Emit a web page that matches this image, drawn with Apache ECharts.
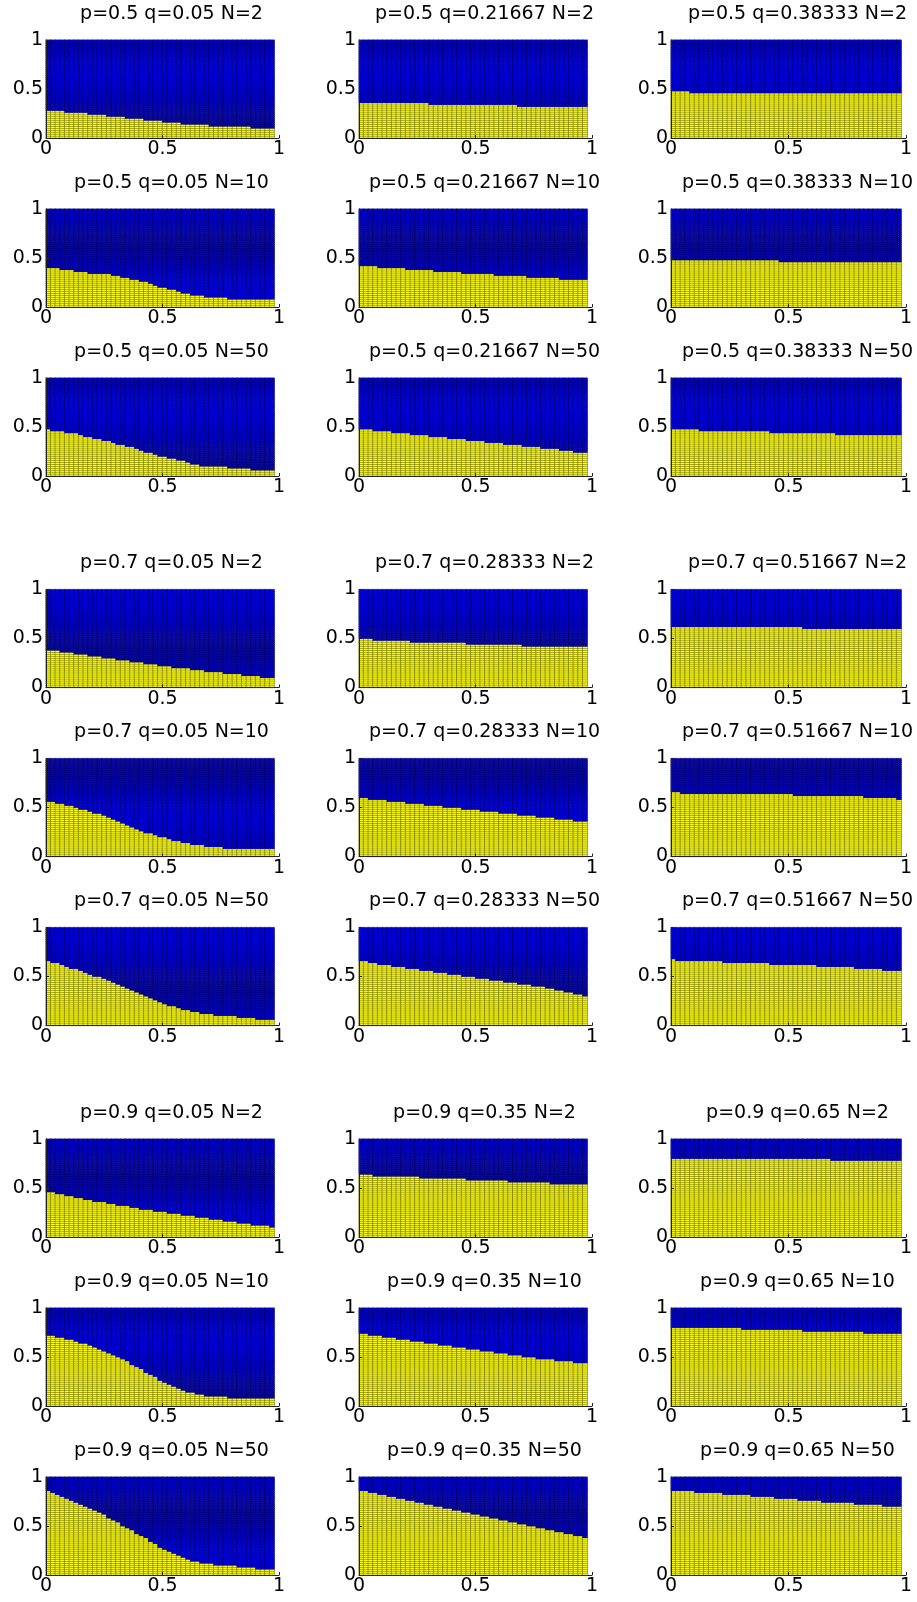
<!DOCTYPE html>
<html><head><meta charset="utf-8">
<script src="https://cdn.jsdelivr.net/npm/echarts@6/dist/echarts.min.js"></script>
<style>html,body{margin:0;padding:0;background:#fff}#c{width:917px;height:1602px}</style>
</head><body><div id="c"></div>
<script>
// Number of yellow cells (out of 50 rows, each 0.02 tall) in each of the 49 columns (each 0.02 wide, x from 0 to 0.98)
const p05_q005_N2 = [14,14,14,14,13,13,13,13,13,12,12,12,12,11,11,11,11,10,10,10,10,9,9,9,9,8,8,8,8,7,7,7,7,7,7,6,6,6,6,6,6,6,6,6,5,5,5,5,5];
const p05_q021667_N2 = [18,18,18,18,18,18,18,18,18,18,18,18,18,18,18,17,17,17,17,17,17,17,17,17,17,17,17,17,17,17,17,17,17,17,16,16,16,16,16,16,16,16,16,16,16,16,16,16,16];
const p05_q038333_N2 = [24,24,24,24,23,23,23,23,23,23,23,23,23,23,23,23,23,23,23,23,23,23,23,23,23,23,23,23,23,23,23,23,23,23,23,23,23,23,23,23,23,23,23,23,23,23,23,23,23];
const p05_q005_N10 = [20,20,20,19,19,19,18,18,18,17,17,17,17,17,16,16,15,15,14,14,13,13,12,11,10,10,9,9,8,7,7,6,6,6,5,5,5,5,5,4,4,4,4,4,4,4,4,4,4];
const p05_q021667_N10 = [21,21,21,21,20,20,20,20,20,20,19,19,19,19,19,19,18,18,18,18,18,18,17,17,17,17,17,17,17,16,16,16,16,16,16,16,15,15,15,15,15,15,15,14,14,14,14,14,14];
const p05_q038333_N10 = [24,24,24,24,24,24,24,24,24,24,24,24,24,24,24,24,24,24,24,24,24,24,24,23,23,23,23,23,23,23,23,23,23,23,23,23,23,23,23,23,23,23,23,23,23,23,23,23,23];
const p05_q005_N50 = [24,23,23,23,22,22,22,21,20,20,19,19,18,18,17,16,16,15,15,14,13,12,12,11,10,10,9,9,8,8,7,6,6,5,5,5,5,5,5,4,4,4,4,4,3,3,3,3,3];
const p05_q021667_N50 = [24,24,24,23,23,23,23,22,22,22,22,21,21,21,21,20,20,20,20,19,19,19,19,18,18,18,18,17,17,17,17,16,16,16,16,15,15,15,15,14,14,14,14,13,13,13,12,12,12];
const p05_q038333_N50 = [24,24,24,24,24,24,23,23,23,23,23,23,23,23,23,23,23,23,23,23,23,22,22,22,22,22,22,22,22,22,22,22,22,22,22,21,21,21,21,21,21,21,21,21,21,21,21,21,21];

const p07_q005_N2 = [19,19,19,18,18,18,17,17,17,16,16,16,15,15,15,14,14,14,13,13,13,12,12,12,11,11,11,10,10,10,10,9,9,9,8,8,8,8,7,7,7,7,6,6,6,6,5,5,5];
const p07_q028333_N2 = [25,25,25,24,24,24,24,24,24,24,24,23,23,23,23,23,23,23,23,23,23,23,23,22,22,22,22,22,22,22,22,22,22,22,22,21,21,21,21,21,21,21,21,21,21,21,21,21,21];
const p07_q051667_N2 = [31,31,31,31,31,31,31,31,31,31,31,31,31,31,31,31,31,31,31,31,31,31,31,31,31,31,31,31,30,30,30,30,30,30,30,30,30,30,30,30,30,30,30,30,30,30,30,30,30];
const p07_q005_N10 = [28,28,27,27,26,26,25,24,24,23,22,22,21,20,19,18,17,16,15,14,13,12,12,11,10,10,9,8,8,7,7,6,6,6,5,5,5,5,4,4,4,4,4,4,4,4,4,4,4];
const p07_q028333_N10 = [30,30,29,29,29,29,28,28,28,28,27,27,27,27,26,26,26,26,25,25,25,25,24,24,24,24,23,23,23,23,22,22,22,22,21,21,21,21,20,20,20,20,19,19,19,19,18,18,18];
const p07_q051667_N10 = [33,33,32,32,32,32,32,32,32,32,32,32,32,32,32,32,32,32,32,32,32,32,32,32,32,32,31,31,31,31,31,31,31,31,31,31,31,31,31,31,31,30,30,30,30,30,30,30,29];
const p07_q005_N50 = [33,32,32,31,30,29,29,28,27,26,25,25,24,23,22,21,20,19,18,17,16,15,14,13,12,11,10,10,9,8,8,7,7,6,6,6,5,5,5,5,5,4,4,4,4,3,3,3,3];
const p07_q028333_N50 = [33,33,32,32,31,31,31,30,30,30,29,29,29,28,28,28,27,27,27,26,26,26,25,25,25,24,24,24,23,23,23,22,22,22,21,21,21,20,20,20,19,19,18,18,17,17,16,16,15];
const p07_q051667_N50 = [34,33,33,33,33,33,33,33,33,33,33,32,32,32,32,32,32,32,32,32,32,31,31,31,31,31,31,31,31,31,31,30,30,30,30,30,30,30,30,29,29,29,29,29,29,28,28,28,28];

const p09_q005_N2 = [23,23,22,22,21,21,20,20,19,19,18,18,18,17,17,16,16,16,15,15,14,14,14,13,13,13,12,12,12,11,11,11,10,10,10,9,9,9,8,8,8,7,7,7,6,6,6,6,5];
const p09_q035_N2 = [32,32,32,31,31,31,31,31,31,31,31,31,31,30,30,30,30,30,30,30,30,30,30,29,29,29,29,29,29,29,29,29,28,28,28,28,28,28,28,28,28,27,27,27,27,27,27,27,27];
const p09_q065_N2 = [40,40,40,40,40,40,40,40,40,40,40,40,40,40,40,40,40,40,40,40,40,40,40,40,40,40,40,40,40,40,40,40,40,40,39,39,39,39,39,39,39,39,39,39,39,39,39,39,39];
const p09_q005_N10 = [36,36,35,35,34,34,33,32,32,31,30,29,28,27,26,25,24,23,21,20,19,17,16,15,13,12,11,10,9,8,7,7,6,6,5,5,5,5,5,4,4,4,4,4,4,4,4,4,4];
const p09_q035_N10 = [37,37,36,36,36,35,35,35,34,34,34,33,33,33,32,32,32,31,31,31,30,30,30,29,29,29,28,28,28,27,27,27,26,26,26,25,25,25,24,24,24,24,23,23,23,23,22,22,22];
const p09_q065_N10 = [40,40,40,40,40,40,40,40,40,40,40,40,40,40,40,39,39,39,39,39,39,39,39,39,39,39,39,39,38,38,38,38,38,38,38,38,38,38,38,38,38,37,37,37,37,37,37,37,37];
const p09_q005_N50 = [43,42,41,40,39,38,37,36,35,34,33,32,31,29,28,27,25,24,23,21,20,19,17,16,14,13,12,11,10,9,8,7,7,6,6,6,5,5,5,5,5,4,4,4,4,3,3,3,3];
const p09_q035_N50 = [43,43,42,42,41,41,40,40,39,39,38,38,37,37,36,36,35,35,34,34,33,33,32,32,31,31,30,30,29,29,28,28,27,27,26,26,25,25,24,24,23,23,22,22,21,21,20,20,19];
const p09_q065_N50 = [43,43,43,43,43,42,42,42,42,42,42,41,41,41,41,41,41,40,40,40,40,40,39,39,39,39,39,38,38,38,38,38,37,37,37,37,37,37,37,36,36,36,36,36,36,35,35,35,35];

const titles = [
  'p=0.5 q=0.05 N=2', 'p=0.5 q=0.21667 N=2', 'p=0.5 q=0.38333 N=2',
  'p=0.5 q=0.05 N=10', 'p=0.5 q=0.21667 N=10', 'p=0.5 q=0.38333 N=10',
  'p=0.5 q=0.05 N=50', 'p=0.5 q=0.21667 N=50', 'p=0.5 q=0.38333 N=50',
  'p=0.7 q=0.05 N=2', 'p=0.7 q=0.28333 N=2', 'p=0.7 q=0.51667 N=2',
  'p=0.7 q=0.05 N=10', 'p=0.7 q=0.28333 N=10', 'p=0.7 q=0.51667 N=10',
  'p=0.7 q=0.05 N=50', 'p=0.7 q=0.28333 N=50', 'p=0.7 q=0.51667 N=50',
  'p=0.9 q=0.05 N=2', 'p=0.9 q=0.35 N=2', 'p=0.9 q=0.65 N=2',
  'p=0.9 q=0.05 N=10', 'p=0.9 q=0.35 N=10', 'p=0.9 q=0.65 N=10',
  'p=0.9 q=0.05 N=50', 'p=0.9 q=0.35 N=50', 'p=0.9 q=0.65 N=50'
];
const panels = [
  p05_q005_N2, p05_q021667_N2, p05_q038333_N2,
  p05_q005_N10, p05_q021667_N10, p05_q038333_N10,
  p05_q005_N50, p05_q021667_N50, p05_q038333_N50,
  p07_q005_N2, p07_q028333_N2, p07_q051667_N2,
  p07_q005_N10, p07_q028333_N10, p07_q051667_N10,
  p07_q005_N50, p07_q028333_N50, p07_q051667_N50,
  p09_q005_N2, p09_q035_N2, p09_q065_N2,
  p09_q005_N10, p09_q035_N10, p09_q065_N10,
  p09_q005_N50, p09_q035_N50, p09_q065_N50
];
const axisTicks = [0, 0.5, 1];
const tickLabels = ['0', '0.5', '1'];

const NCELL = 50;
const colLeft = [46, 359, 671], colWidth = [233, 233, 235];
const rowTop = [40, 209, 378, 589.5, 758.5, 927.5, 1139, 1308, 1477];
const plotH = 98;
const FONT = 'DejaVu Sans';
const BLUE = '#0000d8', YELLOW = '#ffff14';

const grid = [], xAxis = [], yAxis = [], series = [], graphic = [];
const cats = Array.from({length: NCELL}, (_, i) => i);
const fmt = v => { const i = axisTicks.indexOf(+v.toFixed(2)); return i >= 0 ? tickLabels[i] : ''; };
const valAxis = (k, pos) => ({
  type: 'value', gridIndex: k, min: 0, max: 1, interval: 0.5, position: pos,
  axisLine: {show: true, lineStyle: {color: '#222', width: 1}},
  axisTick: {show: true, inside: true, length: 3, lineStyle: {color: '#222'}},
  splitLine: {show: false},
  axisLabel: {fontFamily: FONT, fontSize: 19, color: '#000', margin: pos === 'left' ? 3 : 2, formatter: fmt},
  z: 5
});
panels.forEach((h, k) => {
  const r = Math.floor(k / 3), c = k % 3;
  grid.push({left: colLeft[c], top: rowTop[r], width: colWidth[c], height: plotH});
  xAxis.push({type: 'category', gridIndex: k, data: cats, show: false});
  yAxis.push({type: 'category', gridIndex: k, data: cats, show: false});
  xAxis.push(valAxis(k, 'bottom'));
  yAxis.push(valAxis(k, 'left'));
  const data = [];
  h.forEach((v, i) => { for (let j = 0; j < NCELL; j++) data.push([i, j, j < v ? 1 : 0]); });
  series.push({
    type: 'heatmap', xAxisIndex: 2 * k, yAxisIndex: 2 * k, data,
    itemStyle: {borderColor: 'rgba(0,0,0,0.55)', borderWidth: 0.5},
    emphasis: {disabled: true}, progressive: 0, silent: true
  });
  graphic.push({
    type: 'text', x: colLeft[c] + colWidth[c] / 2 + 9, y: rowTop[r] - 26,
    style: {text: titles[k], align: 'center', verticalAlign: 'middle', font: '19px "DejaVu Sans"', fill: '#000'}
  });
});

const chart = echarts.init(document.getElementById('c'), null, {renderer: 'canvas'});
chart.setOption({
  animation: false,
  grid, xAxis, yAxis, series, graphic,
  visualMap: {type: 'piecewise', show: false, dimension: 2,
    pieces: [{min: -0.5, max: 0.5, color: BLUE}, {min: 0.5, max: 1.5, color: YELLOW}]}
});
</script></body></html>
